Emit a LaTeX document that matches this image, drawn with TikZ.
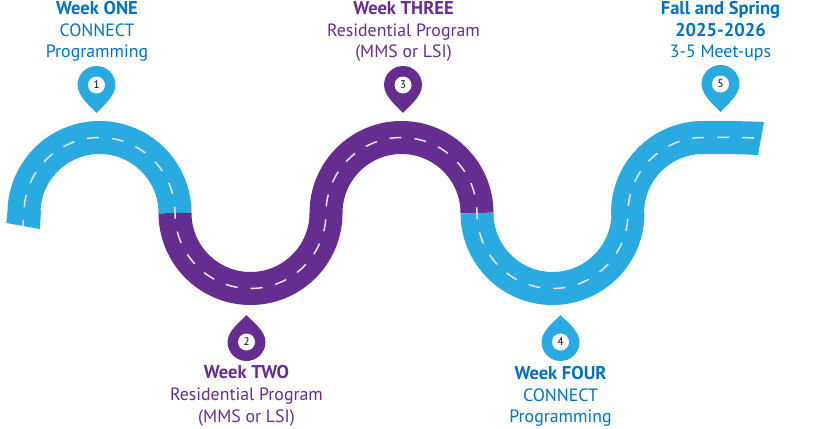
\documentclass[tikz,border=0pt]{standalone}
\usepackage{fontspec}
\setmainfont{PT Sans}
\definecolor{roadblue}{HTML}{29ABE2}
\definecolor{roadpurple}{HTML}{662D91}
\definecolor{textblue}{HTML}{0071BC}
\definecolor{dashgrey}{HTML}{E6E6E6}
\tikzset{
  road/.style={line width=33pt,line cap=butt},
  stripe/.style={draw=dashgrey,line width=1.5pt,dash pattern=on 12pt off 13pt,dash phase=5pt},
  lbl/.style={anchor=base,inner sep=0pt,font=\fontsize{17.8}{20}\selectfont},
  lblb/.style={lbl,font=\fontsize{18.5}{20}\selectfont\bfseries},
  disc/.style={circle,fill=white,inner sep=0pt,minimum size=17pt,text=black,font=\fontsize{11}{12}\selectfont},
}
\newcommand{\pinup}[3]{% tip above, bulb below
  \fill[#3] (#1,#2-27) .. controls (#1+4,#2-22) and (#1+19,#2-12) .. (#1+19,#2)
    arc[start angle=0,end angle=180,radius=19] .. controls (#1-19,#2-12) and (#1-4,#2-22) .. cycle;}
\newcommand{\pindown}[3]{% tip below, bulb above
  \fill[#3] (#1,#2+28) .. controls (#1+4,#2+23) and (#1+19,#2+12) .. (#1+19,#2)
    arc[start angle=0,end angle=-180,radius=19] .. controls (#1-19,#2+12) and (#1-4,#2+23) .. cycle;}
\begin{document}
\begin{tikzpicture}[x=1pt,y=-1pt]
\useasboundingbox (0,0) rectangle (818,428);
% road sections
\fill[roadblue] (7.5,211) -- (6.3,223) -- (39.8,229) -- (41,211) -- cycle;
\draw[road,roadblue] (24,213) arc[start angle=180,end angle=360,radius=75.5];
\draw[road,roadpurple] (175,213) arc[start angle=180,end angle=0,radius=75.5]
  arc[start angle=180,end angle=360,radius=75.5];
\fill[roadblue] (611,215) -- (611,213) arc[start angle=180,end angle=270,radius=92]
  .. controls (725,121) and (745,121) .. (764,122) -- (758,155)
  .. controls (740,154) and (720,154) .. (703,154)
  arc[start angle=270,end angle=180,radius=59] -- (644,215) -- cycle;
\draw[road,roadblue] (477,213) arc[start angle=180,end angle=0,radius=75.5];
% centre stripe
\draw[stripe] (22.8,227) -- (24,213) arc[start angle=180,end angle=360,radius=75.5]
  arc[start angle=180,end angle=0,radius=75.5]
  arc[start angle=180,end angle=360,radius=75.5]
  arc[start angle=180,end angle=0,radius=75.5]
  arc[start angle=180,end angle=270,radius=75.5]
  .. controls (722,137.5) and (742,137) .. (761,138.5);
% pins
\pindown{96.5}{85}{roadblue}
\pinup{246.5}{342}{roadpurple}
\pindown{403}{85}{roadpurple}
\pinup{560.5}{342}{roadblue}
\pindown{720.5}{84}{roadblue}
\node[disc] (n1) at (96.5,85) {1};
\node[disc] (n2) at (246.5,342) {2};
\node[disc] (n3) at (403,85) {3};
\node[disc] (n4) at (560.5,342) {4};
\node[disc] (n5) at (720.5,84) {5};
% labels
\begin{scope}[text=textblue]
\node[lblb] (a1) at (97,15) {Week ONE};
\node[lbl] (a2) at (97,37) {CONNECT};
\node[lbl] (a3) at (97,57.5) {Programming};
\node[lblb] (d1) at (560.5,379) {Week FOUR};
\node[lbl] (d2) at (560.5,401) {CONNECT};
\node[lbl] (d3) at (560.5,422) {Programming};
\node[lblb] (e1) at (720.5,14.5) {Fall and Spring};
\node[lblb] (e2) at (720.5,36.5) {2025-2026};
\node[lbl] (e3) at (720.5,57.5) {3-5 Meet-ups};
\end{scope}
\begin{scope}[text=roadpurple]
\node[lblb] (b1) at (246.5,378.5) {Week TWO};
\node[lbl] (b2) at (246.5,400.5) {Residential Program};
\node[lbl] (b3) at (246.5,422) {(MMS or LSI)};
\node[lblb] (c1) at (403.5,15) {Week THREE};
\node[lbl] (c2) at (403.5,37) {Residential Program};
\node[lbl] (c3) at (403.5,58) {(MMS or LSI)};
\end{scope}
\end{tikzpicture}
\end{document}
